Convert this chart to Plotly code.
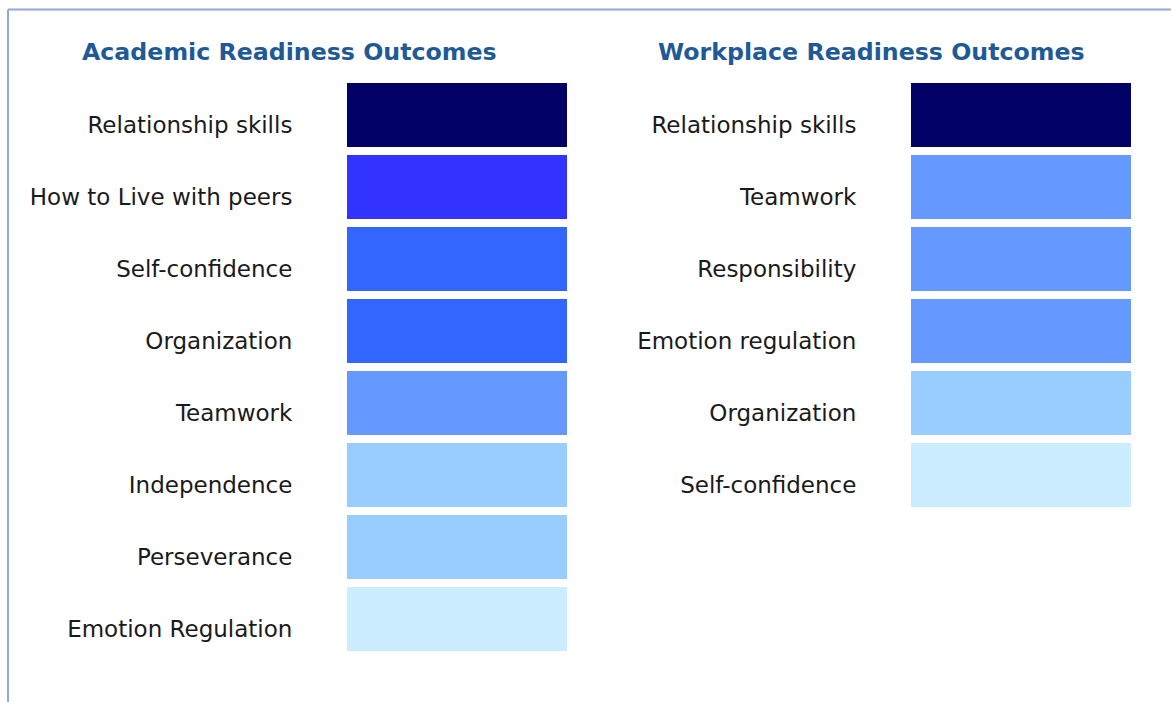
import plotly.graph_objects as go

# ---------------- data ----------------
academic_labels = ["Relationship skills", "How to Live with peers", "Self-confidence",
                   "Organization", "Teamwork", "Independence", "Perseverance",
                   "Emotion Regulation"]
academic_levels = [5, 4, 3, 3, 2, 1, 1, 0]

workplace_labels = ["Relationship skills", "Teamwork", "Responsibility",
                    "Emotion regulation", "Organization", "Self-confidence"]
workplace_levels = [5, 2, 2, 2, 1, 0]

titles = ["Academic Readiness Outcomes", "Workplace Readiness Outcomes"]

# ---------------- style ----------------
palette = ["#CCECFF", "#99CCFF", "#6699FF", "#3366FF", "#3333FF", "#000066"]
W, H = 1171, 702
FONT = "DejaVu Sans"
LABEL_SIZE = 23
TITLE_SIZE = 23.7
TITLE_COLOR = "#1F5A96"
BORDER = "#8EAADB"
PITCH = 72.0
BAR_W = 64 / PITCH
SHIFT = 10 / PITCH          # labels sit slightly below the cell centres

def px_x(p):
    return p / W

def px_y(p):
    return 1 - p / H

ydomain = [px_y(655), px_y(79)]
yrange = [7.5 - SHIFT, -0.5 - SHIFT]

fig = go.Figure()

fig.add_trace(go.Bar(
    orientation="h", y=list(range(len(academic_labels))), x=[1] * len(academic_labels),
    marker=dict(color=[palette[l] for l in academic_levels], line=dict(width=0)),
    width=BAR_W, offset=-BAR_W / 2 - SHIFT,
    xaxis="x", yaxis="y", showlegend=False, hoverinfo="skip"))

fig.add_trace(go.Bar(
    orientation="h", y=list(range(len(workplace_labels))), x=[1] * len(workplace_labels),
    marker=dict(color=[palette[l] for l in workplace_levels], line=dict(width=0)),
    width=BAR_W, offset=-BAR_W / 2 - SHIFT,
    xaxis="x2", yaxis="y2", showlegend=False, hoverinfo="skip"))

common_y = dict(range=yrange, domain=ydomain, showgrid=False, zeroline=False,
                showline=False, ticks="outside", ticklen=0, tickcolor="white",
                tickfont=dict(family=FONT, size=LABEL_SIZE, color="#1A1A1A"),
                ticklabelstandoff=49, fixedrange=True)

fig.update_layout(
    width=W, height=H, margin=dict(l=0, r=0, t=0, b=0),
    paper_bgcolor="white", plot_bgcolor="white",
    bargap=0,
    xaxis=dict(domain=[px_x(347), px_x(567)], range=[0, 1], visible=False, fixedrange=True),
    xaxis2=dict(domain=[px_x(911), px_x(1131)], range=[0, 1], visible=False, fixedrange=True),
    yaxis=dict(anchor="x", tickvals=list(range(len(academic_labels))),
               ticktext=academic_labels, **common_y),
    yaxis2=dict(anchor="x2", tickvals=list(range(len(workplace_labels))),
                ticktext=workplace_labels, **common_y),
    annotations=[
        dict(text="<b>%s</b>" % titles[0], x=px_x(289), y=px_y(52.5), xref="paper", yref="paper",
             xanchor="center", yanchor="middle", showarrow=False,
             font=dict(family=FONT, size=TITLE_SIZE, color=TITLE_COLOR)),
        dict(text="<b>%s</b>" % titles[1], x=px_x(871.5), y=px_y(52.5), xref="paper", yref="paper",
             xanchor="center", yanchor="middle", showarrow=False,
             font=dict(family=FONT, size=TITLE_SIZE, color=TITLE_COLOR)),
    ],
    shapes=[
        dict(type="line", xref="paper", yref="paper", x0=px_x(8), x1=px_x(8),
             y0=0, y1=px_y(9.5), line=dict(color=BORDER, width=2)),
        dict(type="line", xref="paper", yref="paper", x0=px_x(8), x1=1,
             y0=px_y(9.5), y1=px_y(9.5), line=dict(color=BORDER, width=2)),
    ],
)

fig.write_html("out.html")
